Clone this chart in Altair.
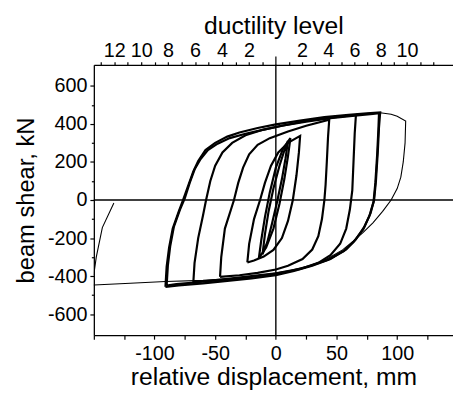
import altair as alt
import pandas as pd

# ---------------- data (displacement mm, shear kN) ----------------
s1_x = [-11, -9, -6, -2, 3, 7, 10, 8, 5, 1, -3, -7, -11]
s1_y = [-285, -180, -60, 60, 180, 260, 311, 220, 110, -10, -120, -220, -285]

s2_x = [-14, -12, -9, -5, 0, 6, 12, 10, 7, 3, -2, -8, -14]
s2_y = [-305, -210, -90, 40, 170, 270, 325, 230, 110, -20, -150, -250, -305]

l2_x = [-23.5, -22, -18, -13, -9, -4, 2, 10, 20, 19, 17, 14, 10, 5, -2, -10, -18, -23.5]
l2_y = [-328, -230, -100, 0, 90, 180, 250, 300, 337, 250, 130, 0, -110, -200, -262, -297, -318, -328]

l3_x = [-46, -45, -42, -36, -34.5, -31, -27, -22, -15, -5, 10, 25, 44,
        43, 42, 41, 40, 38, 35, 30, 22, 10, 0, -15, -30, -46]
l3_y = [-404, -300, -150, -30, 0, 90, 170, 240, 290, 325, 360, 390, 422,
        330, 200, 80, 0, -100, -190, -260, -310, -345, -365, -383, -395, -404]

l4_x = [-68, -67, -64, -60, -57.5, -54, -50, -44, -36, -25, -10, 5, 25, 45, 66,
        65, 64, 63, 61, 58, 53, 45, 35, 20, 0, -20, -45, -68]
l4_y = [-432, -330, -200, -80, 0, 100, 180, 250, 300, 340, 370, 390, 415, 432, 447,
        350, 200, 50, -50, -150, -230, -290, -330, -362, -385, -400, -418, -432]

l5_x = [-91, -90, -88, -85, -80, -76.5, -72, -68, -64, -58, -50, -40, -30, -15, 0, 20, 40, 60, 75, 86,
        85, 84, 82.5, 81, 78, 73, 66, 58, 45, 30, 15, 0, -20, -40, -60, -80, -91]
l5_y = [-456, -350, -250, -150, -60, 0, 80, 150, 205, 262, 300, 333, 355, 378, 397, 417, 435, 448, 455, 460,
        380, 250, 100, 0, -70, -140, -207, -260, -310, -345, -372, -395, -412, -425, -438, -448, -456]

l5b_x = [-90, -89, -87, -84, -79, -75, -71, -67, -62, -56, -48, -38, -25, -10, 5, 25, 45, 65, 80, 85,
         84.5, 83.5, 82, 80.5, 77, 72, 64, 56, 43, 28, 12, -5, -25, -45, -65, -82, -90]
l5b_y = [-450, -345, -240, -140, -50, 10, 90, 160, 215, 262, 296, 325, 348, 370, 390, 412, 430, 443, 452, 456,
         370, 240, 90, -10, -85, -155, -220, -268, -314, -347, -373, -392, -408, -420, -432, -442, -450]

l6_x = [66, 80, 86, 95, 100, 107, 106.5, 105, 103, 100, 95, 88, 80, 72, 64, 55, 42, 25, 0,
        -30, -60, -91, -120, -150, -160, -155, -150, -148, -143, -133.5]
l6_y = [450, 457, 458, 450, 440, 415, 300, 200, 120, 60, 0, -60, -120, -170, -215, -262, -310, -355, -390,
        -410, -422, -428, -437, -446, -448, -420, -390, -300, -145, -16]

# ductility axis
yield_disp_pos = 10.8   # mm per ductility unit, positive side
yield_disp_neg = 11.1   # mm per ductility unit, negative side
duct_pos_levels = list(range(1, 13))
duct_neg_levels = list(range(1, 14))

x_ticks = list(range(-150, 150, 25))
y_ticks = list(range(-600, 601, 100))

# ---------------- build ----------------
def frame(name, xs, ys):
    return pd.DataFrame({"x": xs, "y": ys, "loop": name, "ord": list(range(len(xs)))})

thick = pd.concat([frame("s1", s1_x, s1_y), frame("s2", s2_x, s2_y),
                   frame("l2", l2_x, l2_y), frame("l3", l3_x, l3_y),
                   frame("l4", l4_x, l4_y), frame("l5", l5_x, l5_y),
                   frame("l5b", l5b_x, l5b_y)])
thin = frame("l6", l6_x, l6_y)

FONT = "Liberation Sans"
xscale = alt.Scale(domain=[-150, 146], nice=False, zero=False)
yscale = alt.Scale(domain=[-710, 710], nice=False, zero=False)

neg_expr = "(datum.value < 0 ? '-' + abs(datum.value) : '' + datum.value)"

bottom_axis = alt.Axis(
    orient="bottom", values=x_ticks,
    labelExpr="(datum.value % 50 == 0 && abs(datum.value) <= 100) ? " + neg_expr + " : ''",
    title="relative displacement, mm", tickSize=4, labelPadding=5, titlePadding=1,
    titleFontSize=25, grid=False, labelFlush=False)

left_axis = alt.Axis(
    orient="left", values=y_ticks,
    labelExpr="(datum.value % 200 == 0) ? " + neg_expr + " : ''",
    title="beam shear, kN", titleFontSize=24,
    tickSize={"condition": {"test": "datum.value % 200 == 0", "value": 4}, "value": 2.5},
    labelPadding=3, titlePadding=9, grid=False, labelFlush=False)

top_values = [0] + [k * yield_disp_pos for k in duct_pos_levels] + [-k * yield_disp_neg for k in duct_neg_levels]
top_label = (
    "datum.value < 0 ? (round(-datum.value/%s) %% 2 == 0 ? '' + round(-datum.value/%s) : '') : "
    "(datum.value > 0 && round(datum.value/%s) %% 2 == 0 && round(datum.value/%s) <= 10 ? '' + round(datum.value/%s) : '')"
    % (yield_disp_neg, yield_disp_neg, yield_disp_pos, yield_disp_pos, yield_disp_pos)
)
top_axis = alt.Axis(
    orient="top", values=top_values, labelExpr=top_label, title="ductility level",
    titleFontSize=25,
    tickSize={"condition": {"test": "datum.value == 0", "value": 9}, "value": 3},
    labelPadding=1, titlePadding=3, grid=False, labelFlush=False)

loops = alt.Chart(thick).mark_line(color="black", strokeWidth=2.2, clip=True).encode(
    x=alt.X("x:Q", scale=xscale, axis=bottom_axis),
    y=alt.Y("y:Q", scale=yscale, axis=left_axis),
    detail="loop:N", order="ord:Q")

thin_line = alt.Chart(thin).mark_line(color="black", strokeWidth=1.1, clip=True).encode(
    x=alt.X("x:Q", scale=xscale, axis=None),
    y=alt.Y("y:Q", scale=yscale, axis=None),
    order="ord:Q")

vzero = alt.Chart(pd.DataFrame({"x": [0]})).mark_rule(color="black", strokeWidth=1.4).encode(
    x=alt.X("x:Q", scale=xscale, axis=top_axis))

hzero = alt.Chart(pd.DataFrame({"y": [0]})).mark_rule(color="black", strokeWidth=1.4).encode(
    y=alt.Y("y:Q", scale=yscale, axis=None))

chart = alt.layer(loops, thin_line, vzero, hzero).resolve_axis(x="independent", y="independent").properties(
    width=364, height=274,
    autosize=alt.AutoSizeParams(type="none"),
    padding={"left": 87, "top": 55, "right": 0, "bottom": 57},
).configure_view(stroke=None).configure_axis(
    domainColor="black", domainWidth=1.3, tickColor="black", tickWidth=1.2,
    labelColor="black", titleColor="black",
    labelFont=FONT, titleFont=FONT, labelFontSize=20,
    titleFontWeight="normal",
)

chart.save("out.html", embed_options={"renderer": "svg", "actions": False})
